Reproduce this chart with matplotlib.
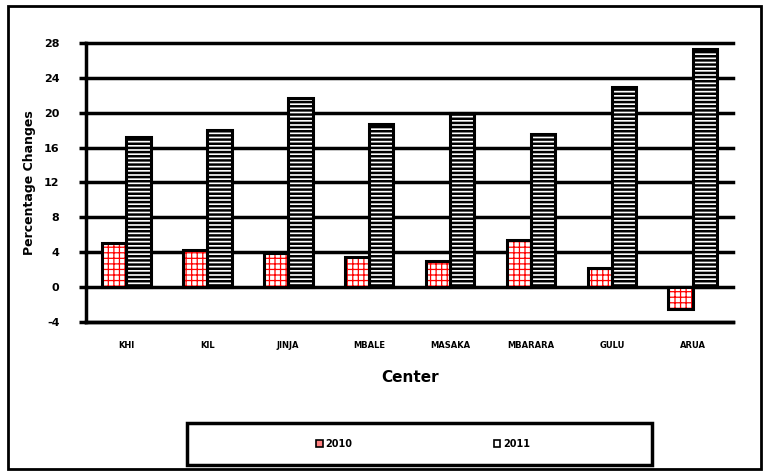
import matplotlib
matplotlib.use("Agg")
import matplotlib.pyplot as plt
import matplotlib.patches as mpatches
import numpy as np

# Data
centers = ["KHI", "KIL", "JINJA", "MBALE", "MASAKA", "MBARARA", "GULU", "ARUA"]
pct_2010 = [5.1, 4.3, 3.9, 3.5, 3.0, 5.4, 2.2, -2.5]
pct_2011 = [17.2, 18.0, 21.7, 18.7, 20.0, 17.5, 22.9, 27.3]
yticks = [-4, 0, 4, 8, 12, 16, 20, 24, 28]

plt.rcParams["font.family"] = "DejaVu Sans"
plt.rcParams["axes.unicode_minus"] = False

fig = plt.figure(figsize=(7.65, 4.72), dpi=100)
ax = fig.add_axes([0.1124, 0.318, 0.846, 0.591])

x = np.arange(len(centers))
width = 0.3

# hatch fills (hatch takes the edge colour), then black outlines on top
with plt.rc_context({"hatch.linewidth": 0.9}):
    ax.bar(x - width / 2, pct_2010, width, color="white", edgecolor="red",
           hatch="+++", linewidth=0, zorder=3)
with plt.rc_context({"hatch.linewidth": 1.8}):
    ax.bar(x + width / 2, pct_2011, width, color="white", edgecolor="black",
           hatch="----", linewidth=0, zorder=3)
ax.bar(x - width / 2, pct_2010, width, fill=False, edgecolor="black",
       linewidth=2.2, zorder=4)
ax.bar(x + width / 2, pct_2011, width, fill=False, edgecolor="black",
       linewidth=2.2, zorder=4)

ax.set_xlim(-0.5, len(centers) - 0.5)
ax.set_ylim(-4, 28)
ax.set_yticks(yticks)
ax.yaxis.grid(True, color="black", linewidth=2.5)
for gl in ax.get_ygridlines():
    gl.set_clip_on(False)
ax.set_axisbelow(True)

ax.set_xticks(x)
ax.set_xticklabels(centers, fontsize=6, fontweight="bold")
ax.tick_params(axis="x", length=0, pad=14)
ax.tick_params(axis="y", labelsize=8, width=2.5, length=5, pad=14)
for lbl in ax.get_yticklabels():
    lbl.set_fontweight("bold")

for side in ("top", "right"):
    ax.spines[side].set_visible(False)
ax.spines["left"].set_linewidth(2.5)
ax.spines["bottom"].set_linewidth(2.5)

ax.set_xlabel("Center", fontsize=11, fontweight="bold", labelpad=14)
ax.set_ylabel("Percentage Changes", fontsize=9, fontweight="bold", labelpad=6)

# legend: entries without a frame, box drawn separately
h1 = mpatches.Patch(facecolor="#ff8080", edgecolor="black", linewidth=1.2)
h2 = mpatches.Patch(facecolor="white", edgecolor="black", linewidth=1.2)
fig.legend([h1, h2], ["2010", "2011"], ncol=2, loc="center",
           bbox_to_anchor=(0.553, 0.06),
           prop={"weight": "bold", "size": 7},
           frameon=False, columnspacing=14.5, handlelength=0.7,
           handleheight=0.7, handletextpad=0.3)
fig.patches.append(mpatches.Rectangle((187 / 765, 1 - 465 / 472), 465 / 765, 42 / 472,
                                      transform=fig.transFigure, fill=False,
                                      edgecolor="black", linewidth=2.5))

# outer frame
fig.patches.append(mpatches.Rectangle((0.011, 0.006), 0.984, 0.982,
                                      transform=fig.transFigure, fill=False,
                                      edgecolor="black", linewidth=2))

fig.savefig("out.png", dpi=100)
